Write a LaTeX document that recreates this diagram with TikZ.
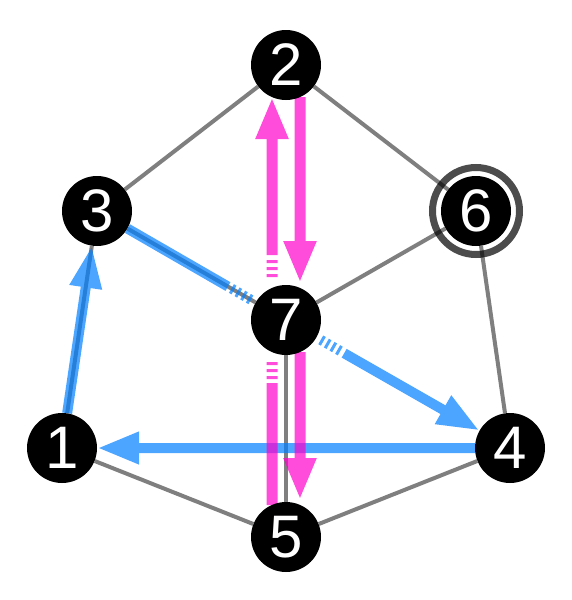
\documentclass[tikz,border=0pt]{standalone}
\usepackage{fontspec}
\setmainfont{Liberation Sans}
\usetikzlibrary{arrows.meta,calc}
\definecolor{pathblue}{RGB}{0,128,255}
\definecolor{pathpink}{RGB}{255,0,204}
\pgfdeclarelayer{edges}
\pgfdeclarelayer{paths}
\pgfsetlayers{edges,paths,main}
\begin{document}
\begin{tikzpicture}[x=1pt,y=-1pt,
  vtx/.style={circle,fill=black,minimum size=70pt,inner sep=0pt,text=white,font=\fontsize{60}{60}\selectfont},
  edge/.style={draw=black,draw opacity=0.5,line width=4pt},
  bluepath/.style={draw=pathblue,line width=10pt},
  pinkpath/.style={draw=pathpink,line width=11pt},
  tipped/.style={-{Triangle[length=42pt,width=30pt]}},
  bluestripe/.style={bluepath,dash pattern=on 3pt off 3.5pt},
  pinkstripe/.style={pinkpath,dash pattern=on 3pt off 4pt},
  grp/.style={transparency group,opacity=0.7},
  ring/.style={draw=black,draw opacity=0.7,line width=7pt}
]
\useasboundingbox (0,0) rectangle (572,600);

\node[vtx] (n1) at (62,448) {1};
\node[vtx] (n2) at (286,65) {2};
\node[vtx] (n3) at (97,211) {3};
\node[vtx] (n4) at (510,448) {4};
\node[vtx] (n5) at (286,537) {5};
\node[vtx] (n6) at (476,211) {6};
\node[vtx] (n7) at (286,320) {7};

\begin{pgfonlayer}{edges}
\draw[edge] (n2) -- (n3);
\draw[edge] (n2) -- (n6);
\draw[edge] (n3) -- (n7);
\draw[edge] (n6) -- (n7);
\draw[edge] (n6) -- (n4);
\draw[edge] (n1) -- (n5);
\draw[edge] (n5) -- (n4);
\draw[edge] (n7) -- (n5);
\draw[edge] (n1) -- (n3);
\draw[ring] (n6.center) circle[radius=43.5];
\end{pgfonlayer}

% coordinates for the broken paths through node 7
\coordinate (b37a) at ($(n7)!67pt!(n3)$);
\coordinate (b37b) at ($(n7)!63pt!(n3)$);
\coordinate (b37c) at ($(n7)!40pt!(n3)$);
\coordinate (b74a) at ($(n7)!40pt!(n4)$);
\coordinate (b74b) at ($(n7)!63pt!(n4)$);
\coordinate (b74c) at ($(n7)!67pt!(n4)$);

\coordinate (pL0) at ($(n5.center)+(-14,-32)$);
\coordinate (pL1) at ($(n7.center)+(-14,63)$);
\coordinate (pL2) at ($(n7.center)+(-14,59)$);
\coordinate (pL3) at ($(n7.center)+(-14,42)$);
\coordinate (pL4) at ($(n7.center)+(-14,-43)$);
\coordinate (pL5) at ($(n7.center)+(-14,-60)$);
\coordinate (pL6) at ($(n7.center)+(-14,-65)$);
\coordinate (pL7) at ($(n2.center)+(-14,32)$);

\coordinate (pR0) at ($(n2.center)+(14,32)$);
\coordinate (pR1) at ($(n7.center)+(14,-37)$);
\coordinate (pR2) at ($(n7.center)+(14,32)$);
\coordinate (pR3) at ($(n5.center)+(14,-37)$);

\begin{pgfonlayer}{paths}
% blue path
\begin{scope}[grp]
\draw[bluepath,tipped] (n1) -- (n3);
\end{scope}
\begin{scope}[grp]
\draw[bluepath] (n3) -- (b37a);
\draw[bluestripe] (b37b) -- (b37c);
\end{scope}
\begin{scope}[grp]
\draw[bluestripe] (b74a) -- (b74b);
\draw[bluepath,tipped] (b74c) -- (n4);
\end{scope}
\begin{scope}[grp]
\draw[bluepath,tipped] (n4) -- (n1);
\end{scope}
% pink path
\begin{scope}[grp]
\draw[pinkpath] (pL0) -- (pL1);
\draw[pinkstripe] (pL2) -- (pL3);
\draw[pinkstripe] (pL4) -- (pL5);
\draw[pinkpath,tipped] (pL6) -- (pL7);
\end{scope}
\begin{scope}[grp]
\draw[pinkpath,tipped] (pR0) -- (pR1);
\end{scope}
\begin{scope}[grp]
\draw[pinkpath,tipped] (pR2) -- (pR3);
\end{scope}
\end{pgfonlayer}
\end{tikzpicture}
\end{document}
